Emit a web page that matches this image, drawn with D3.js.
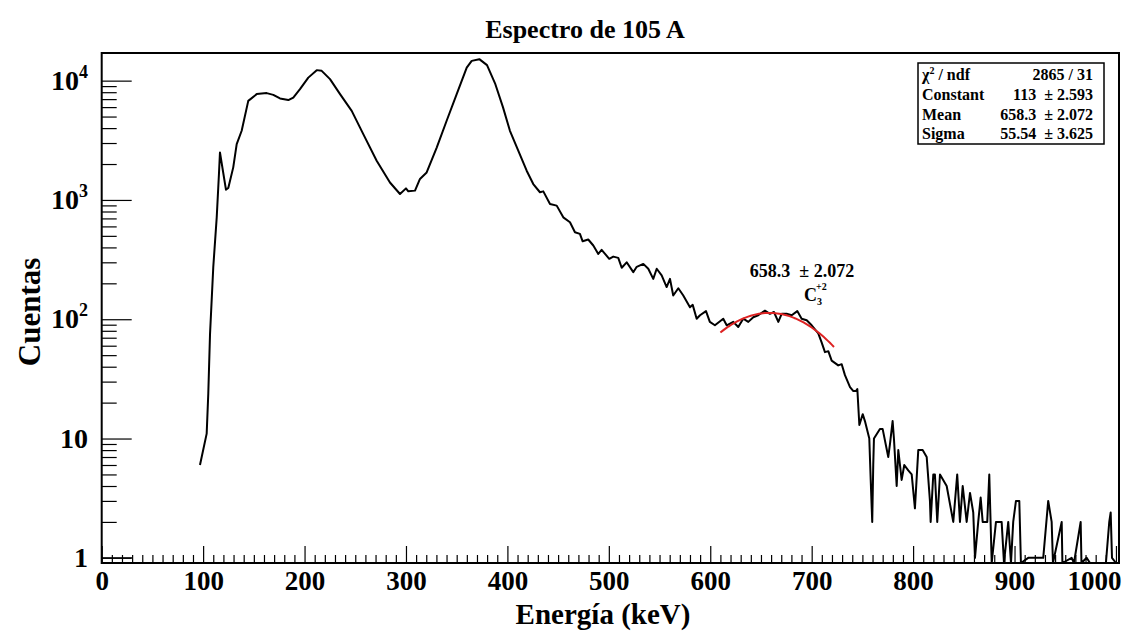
<!DOCTYPE html>
<html>
<head>
<meta charset="utf-8">
<script src="https://cdn.jsdelivr.net/npm/d3@7"></script>
<style>
  body { margin: 0; background: #fff; }
  text { font-family: "Liberation Serif", "Times New Roman", serif; font-weight: bold; fill: #000; }
</style>
</head>
<body>
<svg id="chart" width="1146" height="633"></svg>
<script>
// spectrum (keV, counts); 0 = empty bin
const energy = [
  96.9, 103.5, 105.1, 106.8, 110.0, 113.4, 115.6, 116.6, 122.5, 124.8,
  129.7, 133.1, 138.0, 144.5, 152.8, 162.7, 169.2, 175.8, 184.0, 188.9,
  195.5, 203.7, 212.0, 216.9, 225.1, 235.0, 246.5, 257.9, 271.1, 284.2,
  294.1, 300.0, 302.3, 308.9, 313.8, 320.4, 330.3, 340.1, 350.0, 359.9,
  364.8, 372.3, 379.9, 387.8, 395.6, 402.5, 410.7, 419.0, 425.5, 432.1,
  435.4, 442.0, 448.6, 455.1, 461.7, 466.6, 471.5, 474.2, 479.7, 484.7,
  489.6, 492.9, 500.4, 504.4, 509.3, 512.7, 517.6, 524.1, 527.5, 534.0,
  538.9, 543.8, 547.2, 552.1, 557.0, 560.3, 563.5, 568.5, 573.4, 580.0,
  582.7, 586.6, 589.9, 595.8, 599.6, 604.6, 612.8, 616.2, 622.7, 627.6,
  632.5, 637.5, 642.4, 647.3, 653.9, 658.8, 662.8, 667.1, 670.4, 675.3,
  680.3, 685.8, 690.1, 695.1, 700.0, 706.5, 709.8, 713.1, 716.4, 719.7,
  726.2, 729.6, 732.8, 737.8, 741.1, 743.7, 745.0, 747.0, 750.3, 752.5,
  756.8, 758.2, 759.7, 760.7, 761.4, 767.3, 770.0, 775.5, 777.2, 779.8,
  781.1, 783.8, 785.4, 788.7, 791.3, 795.2, 798.6, 801.8, 805.1, 809.4,
  813.4, 816.6, 817.3, 819.9, 821.5, 823.8, 826.5, 833.1, 839.6, 843.5,
  846.2, 848.9, 852.8, 856.1, 859.3, 861.0, 864.2, 866.6, 868.6, 873.1,
  875.1, 877.5, 881.7, 887.3, 889.6, 893.8, 896.5, 898.7, 901.4, 904.7,
  906.3, 913.5, 928.3, 933.2, 936.6, 937.9, 946.5, 947.2, 956.3, 958.6,
  965.2, 966.0, 971.1, 974.4, 990.1, 993.4, 994.8, 996.1, 1000.0
];
const counts = [
  6, 11, 24, 75, 273, 715, 1650, 2500, 1220, 1260,
  1875, 2940, 3800, 6770, 7710, 7860, 7600, 7090, 6870, 7220,
  8490, 10600, 12250, 12080, 10290, 7710, 5580, 3560, 2130, 1400,
  1122, 1250, 1180, 1197, 1500, 1700, 2750, 4610, 7710, 12880,
  14650, 15140, 13500, 9500, 6000, 3800, 2585, 1758, 1360, 1160,
  1180, 926, 896, 715, 650, 536, 519, 450, 466, 415,
  353, 382, 321, 335, 327, 270, 300, 248, 275, 291,
  265, 218, 265, 233, 186, 218, 158, 182, 158, 126,
  132, 101, 108, 117, 95, 89, 101, 89, 95, 86,
  101, 95, 104, 108, 118, 111, 115, 95, 111, 111,
  108, 117, 101, 98, 89, 76, 64, 53, 54, 45,
  41, 42, 34, 27, 25, 25, 26, 13, 16, 14,
  10, 4.5, 2, 6, 10, 12, 12, 7, 9, 14,
  10, 4, 8, 4.5, 6, 5.4, 5, 2.6, 8, 8,
  7, 3, 2, 5, 5, 2, 5, 4, 2, 5,
  2, 4, 2, 3.5, 2.4, 1, 2, 3.2, 2, 2,
  5, 0, 2, 2, 0, 2, 0, 2, 3, 3,
  0, 1, 1, 3, 2, 0, 2, 0, 1, 0,
  2, 0, 1, 0, 0, 2, 2.4, 1, 0
];
// first bins below threshold
const lowEnergy = [0, 30];
const lowCounts = [1, 1];

// gaussian fit shown in red
const fitNames = ["Constant", "Mean", "Sigma"];
const fitValues = [113, 658.3, 55.54];
const fitErrors = [2.593, 2.072, 3.625];
const fitRange = [610, 722];
const chi2 = "2865 / 31";

const xMajor = d3.range(0, 1001, 100);
const xMinor = d3.range(0, 1001, 10).filter(v => v % 100 !== 0);
const yMajor = [1, 10, 100, 1000, 10000];
const yMinor = [];
for (const d of [0.1, 1, 10, 100, 1000, 10000]) {
  for (let k = 2; k <= 9; k++) yMinor.push(d * k);
}

const mLeft = 101.7, mRight = 1119, mTop = 53, mBottom = 563;

const svg = d3.select("#chart");

const x = d3.scaleLinear().domain([0, 1003]).range([mLeft, mRight]);
const y = d3.scaleLog().domain([0.905, 17050]).range([mBottom, mTop]);
const yv = c => c > 0 ? y(c) : mBottom;

// ticks (inside the frame, ROOT style)
svg.append("g")
  .attr("transform", `translate(0,${mBottom})`)
  .call(d3.axisBottom(x).tickValues(xMinor).tickSize(-8).tickSizeOuter(0).tickFormat(""))
  .call(g => g.select(".domain").remove());
svg.append("g")
  .attr("transform", `translate(0,${mBottom})`)
  .call(d3.axisBottom(x).tickValues(xMajor).tickSize(-17).tickSizeOuter(0).tickPadding(8).tickFormat(d3.format("d")))
  .call(g => g.select(".domain").remove())
  .call(g => g.selectAll("text").style("font-size", "27px").attr("font-family", null).attr("fill", "#000"))
  // last label would run off the canvas, pull it in
  .call(g => g.selectAll("text").filter(d => d === 1000).attr("text-anchor", "end").attr("x", 1121 - x(1000)));

const yMinorIn = yMinor.filter(v => v >= 0.905 && v <= 17050);
svg.append("g")
  .attr("transform", `translate(${mLeft},0)`)
  .call(d3.axisLeft(y).tickValues(yMinorIn).tickSize(-15).tickSizeOuter(0).tickFormat(""))
  .call(g => g.select(".domain").remove());
svg.append("g")
  .attr("transform", `translate(${mLeft},0)`)
  .call(d3.axisLeft(y).tickValues(yMajor).tickSize(-30).tickSizeOuter(0).tickFormat(""))
  .call(g => g.select(".domain").remove());

svg.selectAll("g.tick line").attr("stroke", "#000").attr("stroke-width", 1.2);

// y labels with exponents
const ylab = svg.append("g").selectAll("text")
  .data(yMajor)
  .enter().append("text")
  .attr("x", 88)
  .attr("y", d => y(d) + 9)
  .attr("text-anchor", "end")
  .style("font-size", "28px");
ylab.each(function(d) {
  const t = d3.select(this);
  const e = Math.round(Math.log10(d));
  if (e < 2) {
    t.text(String(d));
  } else {
    t.append("tspan").text("10");
    t.append("tspan").attr("dy", -12).style("font-size", "18px").text(e);
  }
});

// spectrum
const line = d3.line()
  .x(d => x(d[0]))
  .y(d => yv(d[1]));

svg.append("path")
  .datum(energy.map((e, i) => [e, counts[i]]))
  .attr("d", line)
  .attr("fill", "none")
  .attr("stroke", "#000")
  .attr("stroke-width", 2)
  .attr("stroke-linejoin", "round");

svg.append("path")
  .datum(lowEnergy.map((e, i) => [e, lowCounts[i]]))
  .attr("d", line)
  .attr("fill", "none")
  .attr("stroke", "#000")
  .attr("stroke-width", 1.2);

// fit
const gaus = e => fitValues[0] * Math.exp(-0.5 * Math.pow((e - fitValues[1]) / fitValues[2], 2));
const fitPts = d3.range(fitRange[0], fitRange[1] + 0.1, 2).map(e => [e, gaus(e)]);
svg.append("path")
  .datum(fitPts)
  .attr("d", line)
  .attr("fill", "none")
  .attr("stroke", "#d22")
  .attr("stroke-width", 2);

// frame
svg.append("rect")
  .attr("x", mLeft).attr("y", mTop)
  .attr("width", mRight - mLeft).attr("height", mBottom - mTop)
  .attr("fill", "none").attr("stroke", "#000").attr("stroke-width", 2);

// titles
svg.append("text")
  .attr("x", 585).attr("y", 38)
  .attr("text-anchor", "middle")
  .style("font-size", "26px")
  .text("Espectro de 105 A");

svg.append("text")
  .attr("x", 603).attr("y", 624)
  .attr("text-anchor", "middle")
  .style("font-size", "29px")
  .text("Energía (keV)");

svg.append("text")
  .attr("transform", "translate(40,312) rotate(-90)")
  .attr("text-anchor", "middle")
  .style("font-size", "31px")
  .text("Cuentas");

// peak annotation
svg.append("text")
  .attr("x", 802).attr("y", 277)
  .attr("text-anchor", "middle")
  .style("font-size", "18px")
  .style("white-space", "pre")
  .text(`${fitValues[1]}  ± ${fitErrors[1]}`);
const lab = svg.append("text")
  .attr("x", 804).attr("y", 301)
  .style("font-size", "18px");
lab.append("tspan").text("C");
lab.append("tspan").attr("dy", 4).style("font-size", "10px").text("3");
lab.append("tspan").attr("dx", -6).attr("dy", -15).style("font-size", "10px").text("+2");

// stats box
const bx = 918, by = 63, bw = 186, bh = 81;
svg.append("rect")
  .attr("x", bx).attr("y", by).attr("width", bw).attr("height", bh)
  .attr("fill", "#fff").attr("stroke", "#000").attr("stroke-width", 1.5);

const rowNames = ["chi2"].concat(fitNames);
const rowVals = [chi2].concat(fitValues.map((v, i) => `${v}  ± ${fitErrors[i]}`));
const rowBase = [80, 100, 120, 139];
const names = svg.append("g").selectAll("text")
  .data(rowNames)
  .enter().append("text")
  .attr("x", bx + 4)
  .attr("y", (d, i) => rowBase[i])
  .style("font-size", "16px");
names.each(function(d) {
  const t = d3.select(this);
  if (d === "chi2") {
    t.append("tspan").text("χ");
    t.append("tspan").attr("dy", -6).style("font-size", "10px").text("2");
    t.append("tspan").attr("dy", 6).text(" / ndf");
  } else {
    t.text(d);
  }
});
svg.append("g").selectAll("text")
  .data(rowVals)
  .enter().append("text")
  .attr("x", bx + bw - 11)
  .attr("y", (d, i) => rowBase[i])
  .attr("text-anchor", "end")
  .style("font-size", "16px")
  .style("white-space", "pre")
  .text(d => d);
</script>
</body>
</html>
